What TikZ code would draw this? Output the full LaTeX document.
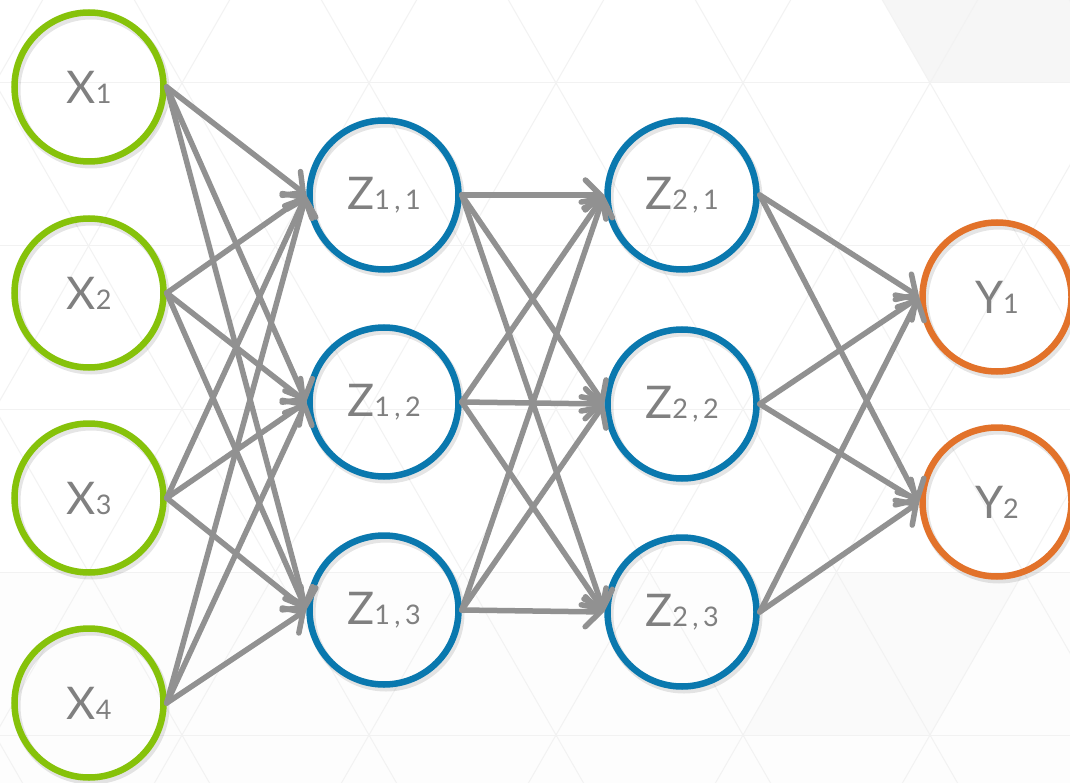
\documentclass[tikz,border=0pt]{standalone}
\usepackage{fontspec}
\setmainfont{Lato}
\usetikzlibrary{arrows.meta,shadows}
\definecolor{ngreen}{HTML}{86C20A}
\definecolor{nblue}{HTML}{0A78AE}
\definecolor{norange}{HTML}{E2722A}
\definecolor{edgegray}{HTML}{919191}
\definecolor{txtgray}{HTML}{808080}
\definecolor{bgline}{HTML}{F2F2F2}
\definecolor{bgfill}{HTML}{F6F6F6}
\newcommand{\sbs}[1]{{\fontsize{27}{27}\selectfont #1}}
\begin{document}
\begin{tikzpicture}[x=1pt,y=-1pt,
  neuron/.style={circle, minimum size=149pt, line width=6.5pt, inner sep=0pt,
    text=txtgray, font=\fontsize{45}{45}\selectfont,
    general shadow={shadow xshift=2pt, shadow yshift=-3pt, draw=black, opacity=.10, line width=8pt}},
  inp/.style={neuron, draw=ngreen},
  hid/.style={neuron, draw=nblue},
  outp/.style={neuron, draw=norange},
  conn/.style={draw=edgegray, line width=5.5pt, line cap=round,
    -{Straight Barb[length=15pt,width=30pt,line cap=round]}},
  gridline/.style={draw=bgline, line width=1pt},
  ]
\useasboundingbox (0,0) rectangle (1070,783);
% background
\begin{scope}
\clip (0,0) rectangle (1070,783);
\fill[white] (0,0) rectangle (1070,783);
\fill[bgfill] (836.5,-80) -- (1023.5,-80) -- (930,83) -- cycle;
\fill[bgfill] (930,83) -- (1023.5,-80) -- (1117,83) -- cycle;
\fill[bgfill] (1023.5,-80) -- (1210,-80) -- (1117,83) -- cycle;
\fill[bgfill!25!white] (0,572) rectangle (1070,783);
\fill[bgfill!60!white] (743,735) -- (930,735) -- (836.5,572) -- cycle;
\fill[bgfill!60!white] (836.5,572) -- (930,735) -- (1023.5,572) -- cycle;
\foreach \k in {-1,...,5} \draw[gridline] (0,{83+163*\k}) -- (1070,{83+163*\k});
\foreach \j in {-7,...,6} {
  \draw[gridline] ({743+187*\j-187},-243) -- ({743+187*\j+467.5},898);
  \draw[gridline] ({743+187*\j+187},-243) -- ({743+187*\j-467.5},898);
}
\end{scope}
% nodes
\node[inp] (x1) at (89,87) {X\sbs{1}};
\node[inp] (x2) at (89,293) {X\sbs{2}};
\node[inp] (x3) at (89,498) {X\sbs{3}};
\node[inp] (x4) at (89,703) {X\sbs{4}};
\node[hid] (z11) at (384,195) {Z\sbs{1\,,\,1}};
\node[hid] (z12) at (384,402) {Z\sbs{1\,,\,2}};
\node[hid] (z13) at (384,610) {Z\sbs{1\,,\,3}};
\node[hid] (z21) at (682,195) {Z\sbs{2\,,\,1}};
\node[hid] (z22) at (682,404) {Z\sbs{2\,,\,2}};
\node[hid] (z23) at (682,612) {Z\sbs{2\,,\,3}};
\node[outp] (y1) at (997,297) {Y\sbs{1}};
\node[outp] (y2) at (997,502) {Y\sbs{2}};
% connectors
\foreach \i in {1,...,4} \foreach \j in {1,2,3} \draw[conn] (x\i.east) -- (z1\j.west);
\foreach \i in {1,2,3} \foreach \j in {1,2,3} \draw[conn] (z1\i.east) -- (z2\j.west);
\foreach \i in {1,2,3} \foreach \j in {1,2} \draw[conn] (z2\i.east) -- (y\j.west);
\end{tikzpicture}
\end{document}
